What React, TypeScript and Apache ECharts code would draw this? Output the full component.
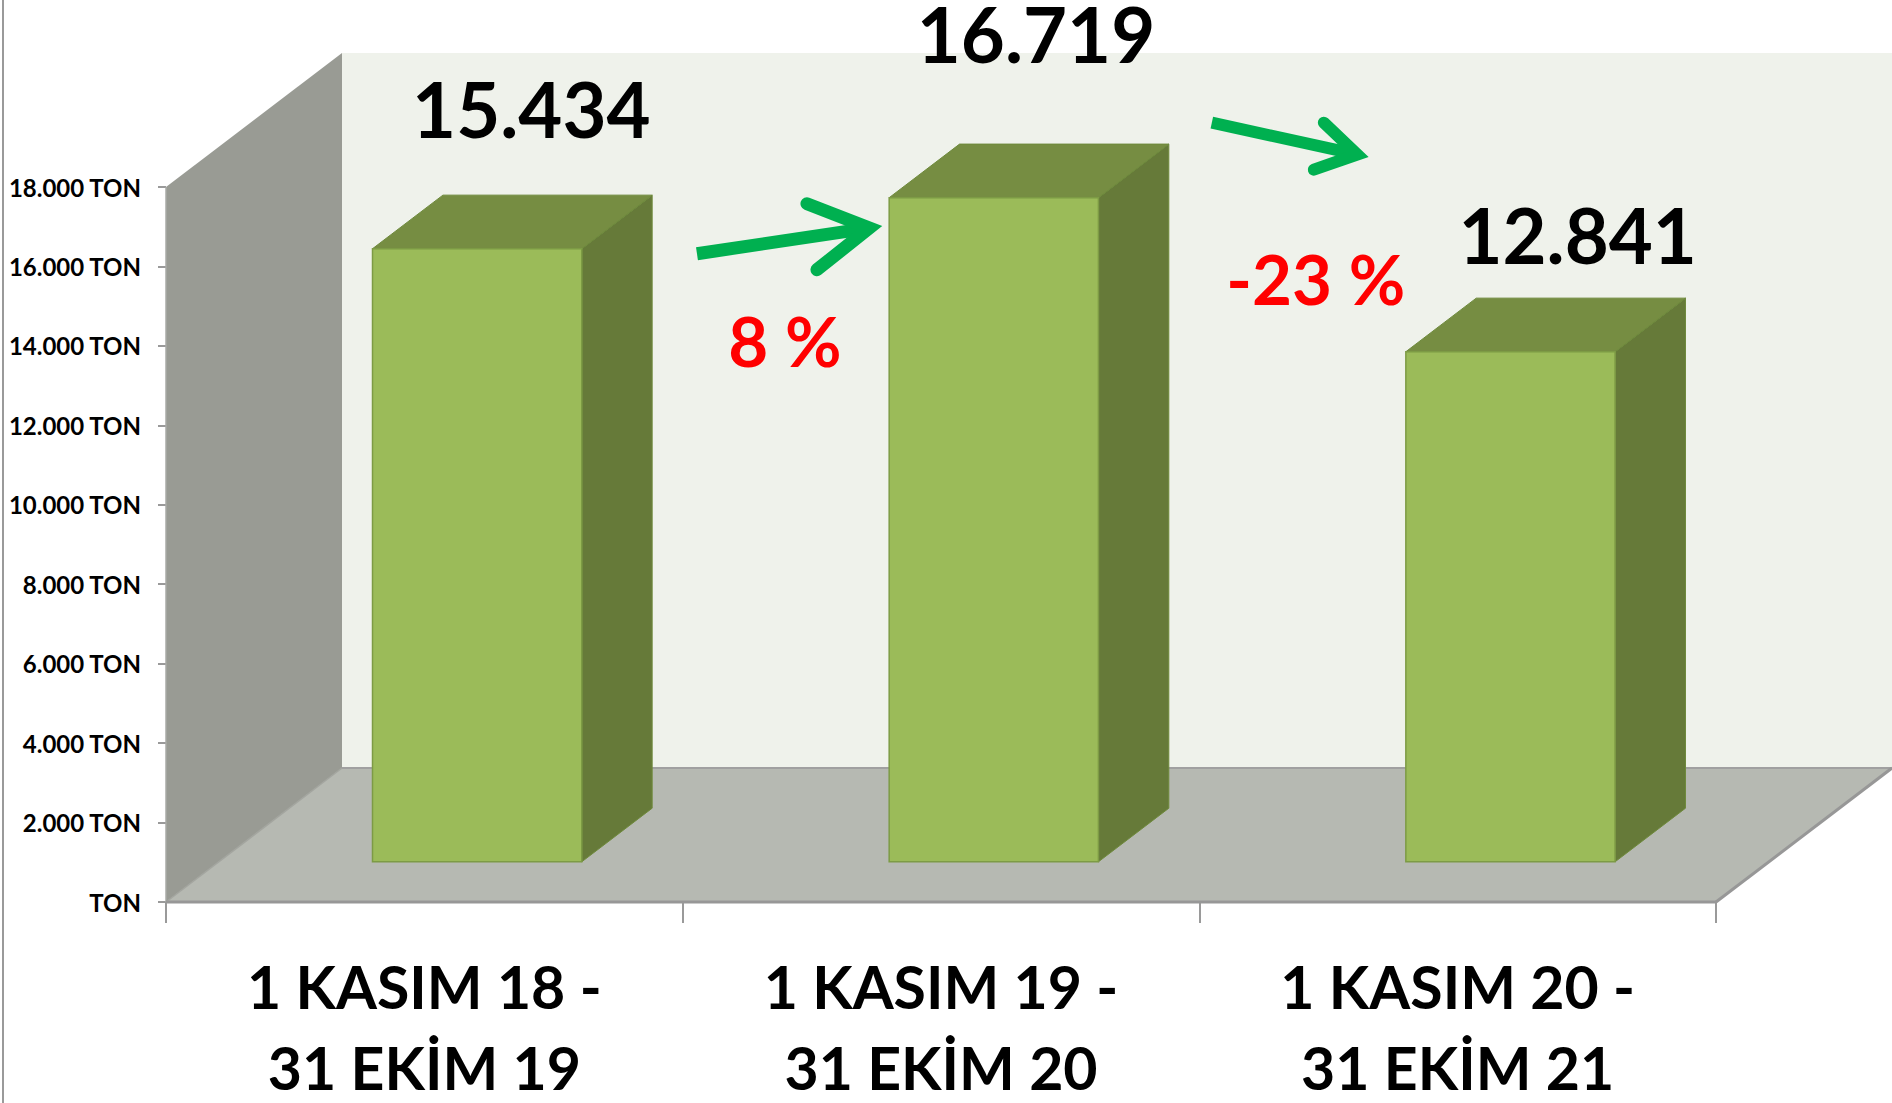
import React, { useEffect, useRef } from 'react';
import * as echarts from 'echarts';

// ---- data ----
const categories = ['1 KASIM 18 -\n31 EKİM 19', '1 KASIM 19 -\n31 EKİM 20', '1 KASIM 20 -\n31 EKİM 21'];
const values = [15434, 16719, 12841];
const changeLabels = ['8 %', '-23 %'];
const yMin = 0;
const yMax = 18000;
const yInterval = 2000;
const yUnit = 'TON';

// ---- styles / geometry ----
const FONT = 'Lato';
const DEPTH = [176, -134];
const BAR_WIDTH_FRAC = 0.405;
const BAR_FRONT = 0.3;
const BAR_DEPTH = 0.4;
const valueLabelOffsets = [[19, -113], [7, -137], [32, -90]];
const arrowGeom = [
  { tail: [-38.5, 30.5], tip: [149.5, 2.5], armA: [71.5, -19.5], armB: [81.5, 46.5], label: [49.5, 117.5], width: 13 },
  { tail: [-40.3, -152], tip: [119.7, -117], armA: [71.7, -152], armB: [61.7, -105], label: [63.7, 4], width: 12 },
];

const fmt = (v: number) => String(v).replace(/\B(?=(\d{3})+(?!\d))/g, '.');

function buildOption(): any {
  return {
    animation: false,
    backgroundColor: '#ffffff',
    grid: { left: 166, right: 176, top: 187, bottom: 201, containLabel: false, outerBoundsMode: 'none' },
    xAxis: {
      type: 'category',
      data: categories,
      axisLine: { show: false },
      axisTick: { show: true, length: 21, lineStyle: { color: '#9a9a9a', width: 2 } },
      axisLabel: {
        margin: 44,
        fontFamily: FONT,
        fontWeight: 'bold',
        fontSize: 59,
        lineHeight: 81,
        color: '#000',
        interval: 0,
      },
      splitLine: { show: false },
    },
    yAxis: {
      type: 'value',
      min: yMin,
      max: yMax,
      interval: yInterval,
      axisLine: { show: false },
      axisTick: { show: true, length: 8, lineStyle: { color: '#9a9a9a', width: 2 } },
      splitLine: { show: false },
      axisLabel: {
        margin: 25,
        fontFamily: FONT,
        fontWeight: 'bold',
        fontSize: 24,
        color: '#000',
        formatter: (v: number) => (v === 0 ? yUnit : (v / 1000).toFixed(3) + ' ' + yUnit),
      },
    },
    graphic: [
      { type: 'line', shape: { x1: 3, y1: 0, x2: 3, y2: 1103 }, style: { stroke: '#9a9a9a', lineWidth: 2 } },
    ],
    series: [
      {
        type: 'custom',
        name: 'walls',
        silent: true,
        z: 1,
        data: [[0, 0]],
        renderItem: (params: any) => {
          const cs = params.coordSys;
          const L = cs.x, T = cs.y, R = cs.x + cs.width, B = cs.y + cs.height;
          const dx = DEPTH[0], dy = DEPTH[1];
          return {
            type: 'group',
            children: [
              { type: 'rect', shape: { x: L + dx, y: T + dy, width: R - L, height: B - T }, style: { fill: '#eff2eb' } },
              { type: 'polygon', shape: { points: [[L, T], [L + dx, T + dy], [L + dx, B + dy], [L, B]] }, style: { fill: '#999b94' } },
              { type: 'polygon', shape: { points: [[L, B], [R, B], [R + dx, B + dy], [L + dx, B + dy]] }, style: { fill: '#b6b9b2' } },
              { type: 'line', shape: { x1: L, y1: T, x2: L, y2: B }, style: { stroke: '#a9aaa6', lineWidth: 1.5 } },
              { type: 'line', shape: { x1: L, y1: B, x2: L + dx, y2: B + dy }, style: { stroke: '#a3a59f', lineWidth: 1.5 } },
              { type: 'line', shape: { x1: L + dx, y1: B + dy, x2: R + dx, y2: B + dy }, style: { stroke: '#a0a0a0', lineWidth: 2 } },
              { type: 'line', shape: { x1: L, y1: B, x2: R, y2: B }, style: { stroke: '#979797', lineWidth: 3 } },
              { type: 'line', shape: { x1: R, y1: B, x2: R + dx, y2: B + dy }, style: { stroke: '#979797', lineWidth: 3 } },
            ],
          };
        },
      },
      {
        type: 'custom',
        name: 'bars',
        z: 2,
        data: values.map((v, i) => [i, v]),
        renderItem: (params: any, api: any) => {
          const i = api.value(0);
          const v = api.value(1);
          const base = api.coord([i, 0]);
          const top = api.coord([i, v]);
          const cw = api.size([1, 0])[0];
          const bw = cw * BAR_WIDTH_FRAC;
          const fx = base[0] - bw / 2 + BAR_FRONT * DEPTH[0];
          const yb = base[1] + BAR_FRONT * DEPTH[1];
          const yt = top[1] + BAR_FRONT * DEPTH[1];
          const dx = BAR_DEPTH * DEPTH[0];
          const dy = BAR_DEPTH * DEPTH[1];
          const cx = fx + bw / 2 + dx / 2;
          const cy = yt + dy / 2;
          const off = valueLabelOffsets[i];
          return {
            type: 'group',
            children: [
              {
                type: 'polygon',
                shape: { points: [[fx + bw, yt], [fx + bw + dx, yt + dy], [fx + bw + dx, yb + dy], [fx + bw, yb]] },
                style: { fill: '#667a39', stroke: '#6f8a3c', lineWidth: 1 },
              },
              {
                type: 'polygon',
                shape: { points: [[fx, yt], [fx + dx, yt + dy], [fx + bw + dx, yt + dy], [fx + bw, yt]] },
                style: { fill: '#768d42', stroke: '#6e8a3c', lineWidth: 1 },
              },
              {
                type: 'rect',
                shape: { x: fx, y: yt, width: bw, height: yb - yt },
                style: { fill: '#9bbb59', stroke: '#7d9b45', lineWidth: 1.5 },
              },
              {
                type: 'text',
                x: cx + off[0],
                y: cy + off[1],
                style: {
                  text: fmt(v),
                  fontFamily: FONT,
                  fontWeight: 'bold',
                  fontSize: 76,
                  lineHeight: 62,
                  fill: '#000',
                  align: 'center',
                  verticalAlign: 'middle',
                },
              },
            ],
          };
        },
      },
      {
        type: 'custom',
        name: 'changes',
        z: 3,
        silent: true,
        data: changeLabels.map((_, i) => [i, values[i], values[i + 1]]),
        renderItem: (params: any, api: any) => {
          const i = api.value(0);
          const p1 = api.coord([i, api.value(1)]);
          const p2 = api.coord([i + 1, api.value(2)]);
          const ax = (p1[0] + p2[0]) / 2 + BAR_FRONT * DEPTH[0];
          const ay = (p1[1] + p2[1]) / 2 + BAR_FRONT * DEPTH[1];
          const g = arrowGeom[i];
          const P = (o: number[]) => [ax + o[0], ay + o[1]];
          const tail = P(g.tail), tip = P(g.tip), a = P(g.armA), b = P(g.armB);
          const ddx = tip[0] - tail[0], ddy = tip[1] - tail[1];
          const len = Math.hypot(ddx, ddy);
          const ux = ddx / len, uy = ddy / len;
          const va = [a[0] - tip[0], a[1] - tip[1]];
          const vb = [b[0] - tip[0], b[1] - tip[1]];
          const ang = Math.acos((va[0] * vb[0] + va[1] * vb[1]) / (Math.hypot(va[0], va[1]) * Math.hypot(vb[0], vb[1])));
          const k = (g.width / 2) / Math.sin(ang / 2);
          const vx = tip[0] - ux * k, vy = tip[1] - uy * k;
          const lab = P(g.label);
          return {
            type: 'group',
            children: [
              {
                type: 'line',
                shape: { x1: tail[0], y1: tail[1], x2: vx - ux * 4, y2: vy - uy * 4 },
                style: { stroke: '#00b050', lineWidth: g.width, lineCap: 'butt' },
              },
              {
                type: 'polyline',
                shape: { points: [a, [vx, vy], b] },
                style: { stroke: '#00b050', lineWidth: g.width, fill: 'none', lineJoin: 'miter', lineCap: 'round', miterLimit: 10 },
              },
              {
                type: 'text',
                x: lab[0],
                y: lab[1],
                style: {
                  text: changeLabels[i],
                  fontFamily: FONT,
                  fontWeight: 'bold',
                  fontSize: 69,
                  fill: '#ff0000',
                  align: 'center',
                  verticalAlign: 'middle',
                },
              },
            ],
          };
        },
      },
    ],
  };
}

export default function App() {
  const ref = useRef<HTMLDivElement>(null);
  useEffect(() => {
    document.body.style.margin = '0';
    const chart = echarts.init(ref.current as HTMLDivElement, null, { renderer: 'svg' });
    chart.setOption(buildOption());
    return () => chart.dispose();
  }, []);
  return <div ref={ref} style={{ width: 1892, height: 1103 }} />;
}
